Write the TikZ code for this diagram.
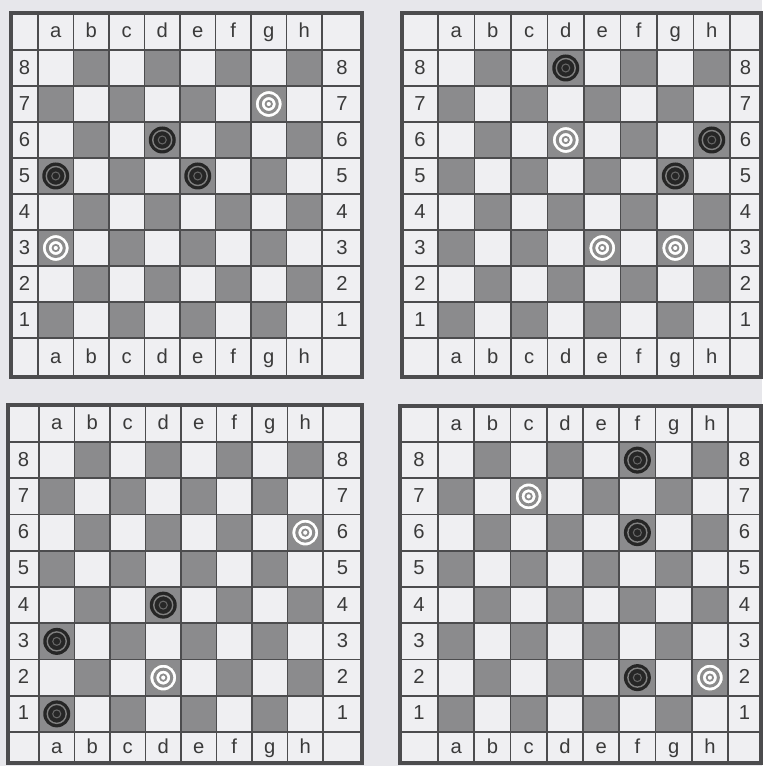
\documentclass[tikz,border=0pt]{standalone}
\usepackage{fontspec}
\setmainfont{Liberation Sans}
\definecolor{paper}{HTML}{E7E7EB}
\definecolor{lightsq}{HTML}{EFEFF2}
\definecolor{darksq}{HTML}{8B8B8D}
\definecolor{rulegray}{HTML}{4C4C4E}
\definecolor{inkgray}{HTML}{3A3A3A}
\tikzset{
  darkfill/.style={fill=darksq},
  gridline/.style={draw=rulegray, line width=0.9pt},
  frameline/.style={draw=rulegray, line width=1.8pt},
  coordlabel/.style={font=\fontsize{11.5}{13}\selectfont, text=inkgray, inner sep=0pt,
    text height=1.6ex, text depth=0.3ex},
}
% 판: #1 이름, #2 왼쪽, #3 위, #4 오른쪽, #5 아래, #6 칸 시작 x, #7 칸 시작 y, #8 칸 너비, #9 칸 높이
\newcommand{\drawboard}[9]{%
  \fill[lightsq] (#2,#3) rectangle (#4,#5);
  \foreach \col [count=\ci] in {a,...,h} {
    \foreach \rank in {1,...,8} {
      \coordinate (#1-\col\rank) at ({#6+(\ci-0.5)*#8},{#7+(8.5-\rank)*#9});
      \pgfmathtruncatemacro{\parity}{mod(\ci+\rank,2)}
      \ifnum\parity=0
        \fill[darkfill] ({#6+(\ci-1)*#8},{#7+(8-\rank)*#9}) rectangle ++(#8,#9);
      \fi
    }
  }
  \foreach \k in {0,...,8} {
    \draw[gridline] ({#6+\k*#8},#3) -- ({#6+\k*#8},#5);
    \draw[gridline] (#2,{#7+\k*#9}) -- (#4,{#7+\k*#9});
  }
  \draw[frameline] (#2,#3) rectangle (#4,#5);
  \foreach \col [count=\ci] in {a,...,h} {
    \node[coordlabel] (#1-top-\col) at ({#6+(\ci-0.5)*#8},{(#3+#7)/2}) {\col};
    \node[coordlabel] (#1-bot-\col) at ({#6+(\ci-0.5)*#8},{(#7+8*#9+#5)/2}) {\col};
  }
  \foreach \rank in {1,...,8} {
    \node[coordlabel] (#1-left-\rank) at ({(#2+#6)/2},{#7+(8.5-\rank)*#9}) {\rank};
    \node[coordlabel] (#1-right-\rank) at ({(#6+8*#8+#4)/2},{#7+(8.5-\rank)*#9}) {\rank};
  }
}
% 검은 말, 흰 말
\newcommand{\blackman}[1]{%
  \fill[black!85] (#1) circle (13.5);
  \draw[black!50, line width=0.8pt] (#1) circle (9.5);
  \draw[black!60, line width=0.6pt] (#1) circle (4);
}
\newcommand{\whiteman}[1]{%
  \fill[white] (#1) circle (13.5);
  \draw[black!45, line width=0.7pt] (#1) circle (13.5);
  \draw[black!45, line width=1.7pt] (#1) circle (8.5);
  \draw[black!45, line width=1pt] (#1) circle (3.2);
}
\begin{document}
\begin{tikzpicture}[x=0.02cm, y=-0.02cm]
  \useasboundingbox (0,0) rectangle (762,766);
  \fill[paper] (0,0) rectangle (762,766);
  % 왼쪽 위
  \drawboard{TL}{11}{13}{362}{377}{38}{50}{35.5}{36}
  \whiteman{TL-g7} \whiteman{TL-a3}
  \blackman{TL-d6} \blackman{TL-a5} \blackman{TL-e5}
  % 오른쪽 위
  \drawboard{TR}{402}{13}{761}{377}{438}{50}{36.5}{36}
  \blackman{TR-d8} \blackman{TR-h6} \blackman{TR-g5}
  \whiteman{TR-d6} \whiteman{TR-e3} \whiteman{TR-g3}
  % 왼쪽 아래
  \drawboard{BL}{8}{405}{362}{763}{39}{442}{35.5}{36.25}
  \whiteman{BL-h6} \whiteman{BL-d2}
  \blackman{BL-d4} \blackman{BL-a3} \blackman{BL-a1}
  % 오른쪽 아래
  \drawboard{BR}{400}{406}{761}{763}{438}{442}{36.25}{36.25}
  \blackman{BR-f8} \blackman{BR-f6} \blackman{BR-f2}
  \whiteman{BR-c7} \whiteman{BR-h2}
\end{tikzpicture}
\end{document}
